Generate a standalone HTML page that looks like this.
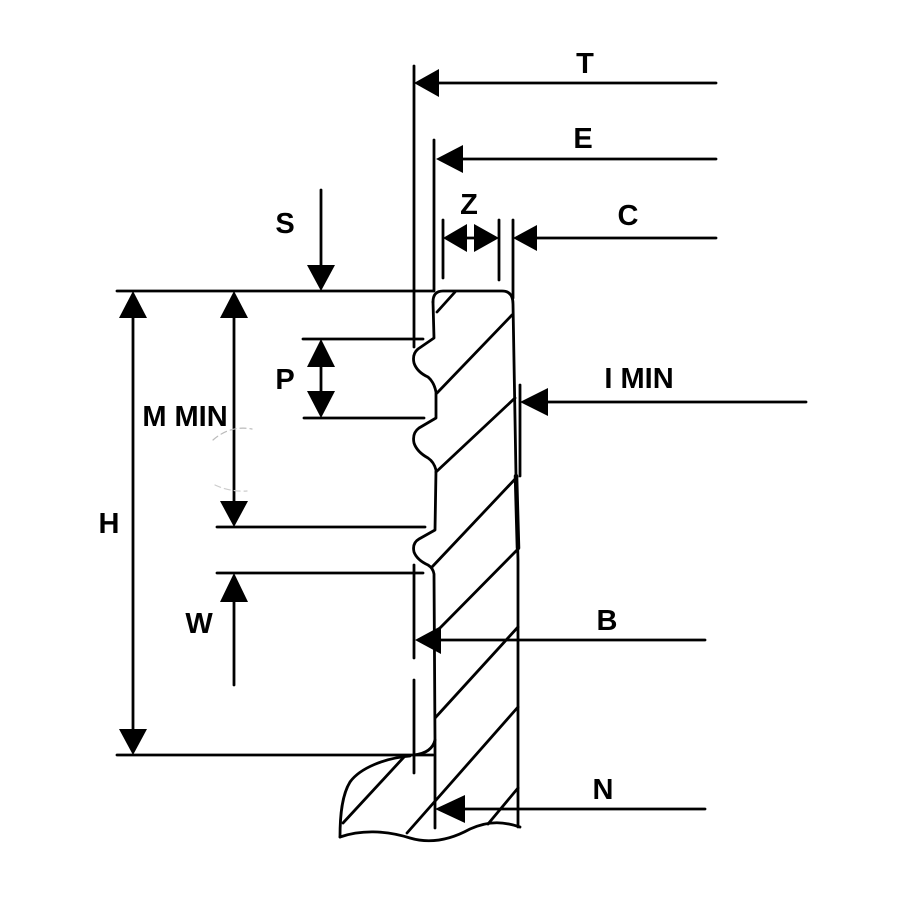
<!DOCTYPE html>
<html>
<head>
<meta charset="utf-8">
<style>
html,body{margin:0;padding:0;background:#fff;}
svg{display:block;}
text{font-family:"Liberation Sans",Arial,sans-serif;font-weight:bold;font-size:29px;fill:#000;}
</style>
</head>
<body>
<svg width="900" height="900" viewBox="0 0 900 900" xmlns="http://www.w3.org/2000/svg">
<g stroke="#000" stroke-width="2.8" fill="none" stroke-linecap="round" stroke-linejoin="round">
  <!-- horizontal dimension/extension lines -->
  <line x1="117" y1="291" x2="433" y2="291"/>
  <line x1="303" y1="339" x2="423" y2="339"/>
  <line x1="304" y1="418" x2="424" y2="418"/>
  <line x1="217" y1="527" x2="425" y2="527"/>
  <line x1="217" y1="573" x2="423" y2="573"/>
  <line x1="117" y1="755" x2="433" y2="755"/>

  <!-- T extension line -->
  <line x1="414" y1="66" x2="414" y2="347"/>
  <line x1="414" y1="565" x2="414" y2="658"/>
  <line x1="414" y1="680" x2="414" y2="773"/>
  <!-- E extension -->
  <line x1="434" y1="140" x2="434" y2="291"/>
  <!-- Z / C extension -->
  <line x1="443" y1="220" x2="443" y2="278"/>
  <line x1="499" y1="220" x2="499" y2="280"/>
  <line x1="513" y1="220" x2="513" y2="298"/>

  <!-- right leader lines -->
  <line x1="439" y1="83" x2="716" y2="83"/>
  <line x1="463" y1="159" x2="716" y2="159"/>
  <line x1="537" y1="238" x2="716" y2="238"/>
  <line x1="467" y1="238" x2="474" y2="238"/>
  <line x1="548" y1="402" x2="806" y2="402"/>
  <line x1="441" y1="640" x2="705" y2="640"/>
  <line x1="465" y1="809" x2="705" y2="809"/>

  <!-- vertical dims -->
  <line x1="321" y1="190" x2="321" y2="266"/>
  <line x1="133" y1="317" x2="133" y2="730"/>
  <line x1="234" y1="317" x2="234" y2="502"/>
  <line x1="321" y1="366" x2="321" y2="392"/>
  <line x1="234" y1="601" x2="234" y2="685"/>

  <!-- I MIN extension -->
  <line x1="520" y1="385" x2="520" y2="476"/>

  <!-- wall outline -->
  <path d="M433,302 Q433,291 443,291 L502,291 Q513,291 513,304 L516,476 L518,560 L518,827"/>
  <path d="M433,302 L434,338 L418,349 Q412,354 414,363 Q417,372 428,377 Q434,382 436,392 L436,418 L419,428 Q412,433 414,443 Q417,452 428,458 Q434,462 436,470 L435,530 L419,539 Q412,543 414,552 Q417,560 428,565 Q433,568 434,574 L435,740 Q432,753 414,755"/>
  <line x1="435" y1="740" x2="435" y2="828"/>
  <path d="M516,476 L518,548" stroke-width="4.5"/>

  <!-- broken piece -->
  <path d="M410,756 C385,758 360,768 350,782 C342,795 340,815 340,837"/>
  <path d="M340,837 C360,830 385,830 410,838 C430,844 450,840 470,829 C490,820 505,822 520,827"/>

  <!-- hatching -->
  <line x1="437" y1="312" x2="455" y2="292"/>
  <line x1="437" y1="393" x2="512" y2="315"/>
  <line x1="436" y1="472" x2="515" y2="398"/>
  <line x1="432" y1="567" x2="517" y2="477"/>
  <line x1="438" y1="630" x2="518" y2="549"/>
  <line x1="435" y1="718" x2="518" y2="627"/>
  <line x1="407" y1="833" x2="518" y2="707"/>
  <line x1="488" y1="824" x2="518" y2="788"/>
  <line x1="343" y1="823" x2="404" y2="757"/>

  <!-- faint marks near M MIN -->
  <path d="M213,440 Q230,425 252,429" stroke="#bbb" stroke-width="1.2" stroke-dasharray="6 4"/>
  <path d="M215,485 Q230,492 247,491" stroke="#ccc" stroke-width="1.2" stroke-dasharray="6 4"/>
</g>

<!-- arrowheads -->
<g fill="#000" stroke="none">
  <polygon points="414,83 439,69 439,97"/>
  <polygon points="436,159 463,145 463,173"/>
  <polygon points="443,238 467,224 467,252"/>
  <polygon points="499,238 474,224 474,252"/>
  <polygon points="513,238 537,225 537,251"/>
  <polygon points="520,402 548,388 548,416"/>
  <polygon points="415,640 441,626 441,654"/>
  <polygon points="435,809 465,795 465,823"/>
  <polygon points="321,291 307,265 335,265"/>
  <polygon points="133,291 119,318 147,318"/>
  <polygon points="133,755 119,729 147,729"/>
  <polygon points="234,291 220,318 248,318"/>
  <polygon points="234,527 220,501 248,501"/>
  <polygon points="321,339 307,367 335,367"/>
  <polygon points="321,418 307,391 335,391"/>
  <polygon points="234,573 220,602 248,602"/>
</g>

<!-- labels -->
<g text-anchor="middle">
  <text x="585" y="73">T</text>
  <text x="583" y="148">E</text>
  <text x="469" y="214">Z</text>
  <text x="628" y="225">C</text>
  <text x="285" y="233">S</text>
  <text x="285" y="389">P</text>
  <text x="639" y="388">I MIN</text>
  <text x="185" y="426">M MIN</text>
  <text x="109" y="533">H</text>
  <text x="199" y="633">W</text>
  <text x="607" y="630">B</text>
  <text x="603" y="799">N</text>
</g>
</svg>
</body>
</html>
